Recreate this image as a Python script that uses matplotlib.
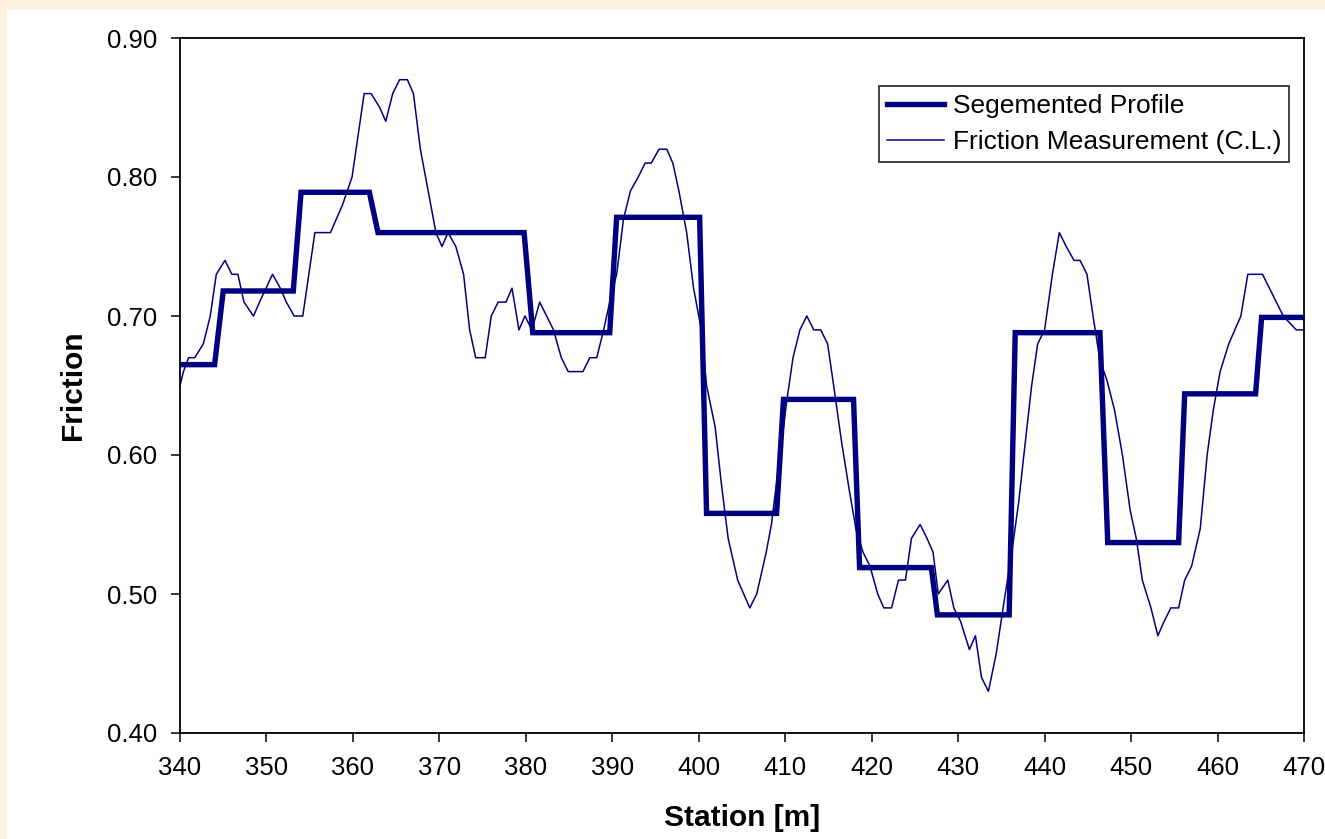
import matplotlib.pyplot as plt
from matplotlib.patches import Rectangle

plt.rcParams['font.family'] = ['Liberation Sans', 'DejaVu Sans']

# Segmented profile (step vertices)
seg_station = [340, 344.0, 345.0, 353.1, 354.0, 361.9, 362.9, 379.8, 380.8, 389.7,
               390.5, 400.1, 400.9, 409.0, 409.8, 417.9, 418.6, 426.9, 427.6, 435.9,
               436.6, 446.4, 447.3, 455.5, 456.2, 464.4, 465.1, 470]
seg_friction = [0.665, 0.665, 0.718, 0.718, 0.789, 0.789, 0.760, 0.760, 0.688, 0.688,
                0.771, 0.771, 0.558, 0.558, 0.640, 0.640, 0.519, 0.519, 0.485, 0.485,
                0.688, 0.688, 0.537, 0.537, 0.644, 0.644, 0.699, 0.699]

# Friction measurement along the centre line
meas_station = [340.0, 340.4, 341.0, 341.7, 342.7, 343.5, 344.2, 345.2, 346.0, 346.7,
                347.4, 348.5, 349.2, 350.7, 351.6, 352.3, 353.2, 354.2, 355.6, 357.4,
                358.1, 358.8, 359.9, 360.6, 361.3, 362.1, 363.1, 363.8, 364.6, 365.4,
                366.3, 367.0, 367.8, 368.7, 369.6, 370.3, 371.0, 371.9, 372.8, 373.5,
                374.2, 375.3, 376.0, 376.8, 377.7, 378.4, 379.2, 379.9, 380.7, 381.6,
                382.4, 383.2, 384.1, 384.9, 386.6, 387.4, 388.2, 389.0, 389.7, 390.5,
                391.3, 392.1, 393.0, 393.8, 394.5, 395.4, 396.3, 397.0, 397.7, 398.6,
                399.4, 400.3, 400.9, 401.9, 402.6, 403.4, 404.5, 405.2, 405.9, 406.7,
                407.8, 408.4, 409.2, 410.2, 410.9, 411.7, 412.5, 413.3, 414.1, 414.9,
                415.6, 416.5, 417.4, 418.2, 419.0, 419.8, 420.7, 421.4, 422.3, 423.1,
                423.9, 424.6, 425.6, 426.4, 427.1, 427.7, 428.8, 429.5, 430.3, 431.3,
                432.0, 432.7, 433.5, 434.4, 435.2, 436.2, 437.0, 437.6, 438.5, 439.2,
                440.0, 440.9, 441.7, 442.5, 443.4, 444.1, 444.9, 445.6, 446.4, 447.2,
                448.1, 449.0, 449.9, 450.6, 451.3, 452.3, 453.1, 453.8, 454.6, 455.5,
                456.2, 457.0, 458.0, 458.8, 459.5, 460.3, 461.3, 462.0, 462.7, 463.5,
                465.2, 466.0, 466.8, 467.6, 469.1, 470.0]
meas_friction = [0.65, 0.66, 0.67, 0.67, 0.68, 0.70, 0.73, 0.74, 0.73, 0.73,
                 0.71, 0.70, 0.71, 0.73, 0.72, 0.71, 0.70, 0.70, 0.76, 0.76,
                 0.77, 0.78, 0.80, 0.83, 0.86, 0.86, 0.85, 0.84, 0.86, 0.87,
                 0.87, 0.86, 0.82, 0.79, 0.76, 0.75, 0.76, 0.75, 0.73, 0.69,
                 0.67, 0.67, 0.70, 0.71, 0.71, 0.72, 0.69, 0.70, 0.69, 0.71,
                 0.70, 0.69, 0.67, 0.66, 0.66, 0.67, 0.67, 0.69, 0.71, 0.73,
                 0.77, 0.79, 0.80, 0.81, 0.81, 0.82, 0.82, 0.81, 0.79, 0.76,
                 0.72, 0.69, 0.65, 0.62, 0.58, 0.54, 0.51, 0.50, 0.49, 0.50,
                 0.53, 0.55, 0.59, 0.64, 0.67, 0.69, 0.70, 0.69, 0.69, 0.68,
                 0.65, 0.61, 0.575, 0.546, 0.53, 0.52, 0.50, 0.49, 0.49, 0.51,
                 0.51, 0.54, 0.55, 0.54, 0.53, 0.50, 0.51, 0.49, 0.48, 0.46,
                 0.47, 0.44, 0.43, 0.457, 0.49, 0.53, 0.566, 0.60, 0.65, 0.68,
                 0.69, 0.73, 0.76, 0.75, 0.74, 0.74, 0.73, 0.70, 0.668, 0.654,
                 0.632, 0.60, 0.56, 0.54, 0.51, 0.49, 0.47, 0.48, 0.49, 0.49,
                 0.51, 0.52, 0.547, 0.60, 0.632, 0.66, 0.68, 0.69, 0.70, 0.73,
                 0.73, 0.72, 0.71, 0.70, 0.69, 0.69]

x_ticks = list(range(340, 471, 10))
y_ticks = [0.40, 0.50, 0.60, 0.70, 0.80, 0.90]

navy = '#000080'

fig = plt.figure(figsize=(13.25, 8.39), dpi=100)
fig.patch.set_facecolor('#FDF0DC')
fig.patches.append(Rectangle((7 / 1325, 0), 1, 1 - 10 / 839, transform=fig.transFigure,
                             facecolor='white', edgecolor='none', zorder=-10))

ax = fig.add_axes([180 / 1325, 1 - 733 / 839, 1124 / 1325, 695 / 839])
ax.plot(seg_station, seg_friction, color=navy, linewidth=3.9,
        solid_joinstyle='miter', label='Segemented Profile')
ax.plot(meas_station, meas_friction, color=navy, linewidth=1.1,
        label='Friction Measurement (C.L.)')

ax.set_xlim(340, 470)
ax.set_ylim(0.40, 0.90)
ax.set_xticks(x_ticks)
ax.set_yticks(y_ticks)
ax.set_yticklabels([f'{v:.2f}' for v in y_ticks])
ax.tick_params(direction='out', length=6.5, width=1.1, labelsize=18.5, pad=10, colors='black')
for s in ax.spines.values():
    s.set_linewidth(1.3)
    s.set_color('black')

ax.set_xlabel('Station [m]', fontsize=21.5, fontweight='bold', labelpad=17)
ax.set_ylabel('Friction', fontsize=21.5, fontweight='bold', labelpad=14)

leg = ax.legend(loc='upper right', bbox_to_anchor=(0.9866, 0.931), borderaxespad=0,
                fontsize=19, fancybox=False, frameon=True, handlelength=2.15,
                handletextpad=0.33, labelspacing=0.45, borderpad=0.3)
leg.get_frame().set_edgecolor('black')
leg.get_frame().set_linewidth(1.3)

fig.savefig('out.png', dpi=100, facecolor=fig.get_facecolor())
